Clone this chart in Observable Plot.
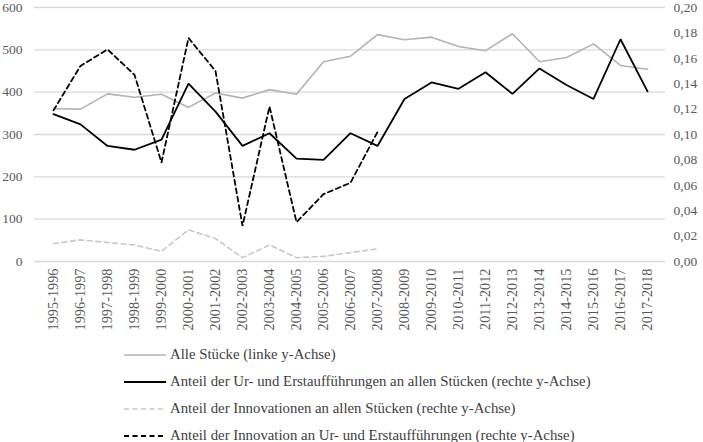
<!DOCTYPE html>
<html>
<head>
<meta charset="utf-8">
<script src="https://cdn.jsdelivr.net/npm/d3@7"></script>
<script src="https://cdn.jsdelivr.net/npm/@observablehq/plot@0.6"></script>
<style>
  html, body { margin: 0; padding: 0; background: #fff; overflow: hidden; }
  #wrap { position: relative; width: 703px; height: 442px; font-family: "Liberation Serif", "Times New Roman", serif; }
  #legend { position: absolute; left: 124px; top: 341px; }
  .row { display: flex; align-items: center; height: 27px; font-size: 14.8px; color: #404040; white-space: nowrap; }
  .row svg { margin-right: 4px; display: block; }
</style>
</head>
<body>
<div id="wrap">
  <div id="chart"></div>
  <div id="legend"></div>
</div>
<script>
const seasons = ["1995-1996","1996-1997","1997-1998","1998-1999","1999-2000","2000-2001","2001-2002","2002-2003","2003-2004","2004-2005","2005-2006","2006-2007","2007-2008","2008-2009","2009-2010","2010-2011","2011-2012","2012-2013","2013-2014","2014-2015","2015-2016","2016-2017","2017-2018"];

// Alle Stücke (linke y-Achse)
const alleStuecke = [361,360,396,388,395,364,398,386,406,395,472,485,536,524,530,508,498,538,472,482,514,463,454];
// Anteil der Ur- und Erstaufführungen an allen Stücken (rechte y-Achse)
const anteilUrErst = [0.116,0.108,0.091,0.088,0.096,0.140,0.118,0.091,0.101,0.081,0.080,0.101,0.091,0.128,0.141,0.136,0.149,0.132,0.152,0.139,0.128,0.175,0.134];
// Anteil der Innovationen an allen Stücken (rechte y-Achse)
const anteilInnovAlle = [0.014,0.017,0.015,0.013,0.008,0.025,0.018,0.003,0.013,0.003,0.004,0.007,0.010];
// Anteil der Innovation an Ur- und Erstaufführungen (rechte y-Achse)
const anteilInnovUrErst = [0.119,0.154,0.167,0.147,0.078,0.176,0.150,0.028,0.122,0.031,0.053,0.062,0.102];

const leftTicks = [0,100,200,300,400,500,600];
const rightTicks = [0,0.02,0.04,0.06,0.08,0.10,0.12,0.14,0.16,0.18,0.20];
const ratio = 600 / 0.20; // right axis to left axis

const seriesNames = [
  "Alle Stücke (linke y-Achse)",
  "Anteil der Ur- und Erstaufführungen an allen Stücken (rechte y-Achse)",
  "Anteil der Innovationen an allen Stücken (rechte y-Achse)",
  "Anteil der Innovation an Ur- und Erstaufführungen (rechte y-Achse)"
];
const styles = [
  {stroke: "#b3b3b3", strokeWidth: 1.6, dash: null},
  {stroke: "#000000", strokeWidth: 1.8, dash: null},
  {stroke: "#c8c8c8", strokeWidth: 1.6, dash: "5,3.5"},
  {stroke: "#000000", strokeWidth: 1.8, dash: "5,3.5"}
];

const d0 = alleStuecke.map((v,i) => ({season: seasons[i], y: v}));
const d1 = anteilUrErst.map((v,i) => ({season: seasons[i], y: v * ratio}));
const d2 = anteilInnovAlle.map((v,i) => ({season: seasons[i], y: v * ratio}));
const d3s = anteilInnovUrErst.map((v,i) => ({season: seasons[i], y: v * ratio}));
const datasets = [d0, d1, d2, d3s];

const chart = Plot.plot({
  width: 703,
  height: 335,
  marginTop: 7,
  marginBottom: 74,
  marginLeft: 34,
  marginRight: 38,
  style: {fontFamily: "Liberation Serif, Times New Roman, serif", background: "transparent", overflow: "visible"},
  x: {type: "point", domain: seasons, padding: 0.5},
  y: {domain: [0, 600]},
  marks: [
    Plot.gridY(leftTicks, {stroke: "#d9d9d9", strokeOpacity: 1, strokeWidth: 1.3}),
    Plot.axisY(leftTicks, {anchor: "left", tickSize: 0, tickPadding: 12, fontSize: 13.5, fill: "#595959", label: null}),
    Plot.axisY(rightTicks.map(v => v * ratio), {anchor: "right", tickSize: 0, tickPadding: 8, fontSize: 13.5, fill: "#595959", label: null,
      tickFormat: d => (d / ratio).toFixed(2).replace(".", ",")}),
    Plot.axisX({anchor: "bottom", tickSize: 0, tickPadding: 7, tickRotate: -90, fontSize: 14.3, fill: "#595959", label: null}),
    ...datasets.map((data, i) => Plot.line(data, {
      x: "season", y: "y",
      stroke: styles[i].stroke,
      strokeWidth: styles[i].strokeWidth,
      strokeDasharray: styles[i].dash || undefined,
      strokeLinejoin: "miter"
    }))
  ]
});
document.getElementById("chart").appendChild(chart);

const legend = document.getElementById("legend");
seriesNames.forEach((name, i) => {
  const row = document.createElement("div");
  row.className = "row";
  const s = styles[i];
  row.innerHTML = `<svg width="42" height="10"><line x1="0" y1="5" x2="42" y2="5" stroke="${s.stroke}" stroke-width="${s.strokeWidth}" ${s.dash ? `stroke-dasharray="${s.dash}"` : ""}/></svg><span>${name}</span>`;
  legend.appendChild(row);
});
</script>
</body>
</html>
